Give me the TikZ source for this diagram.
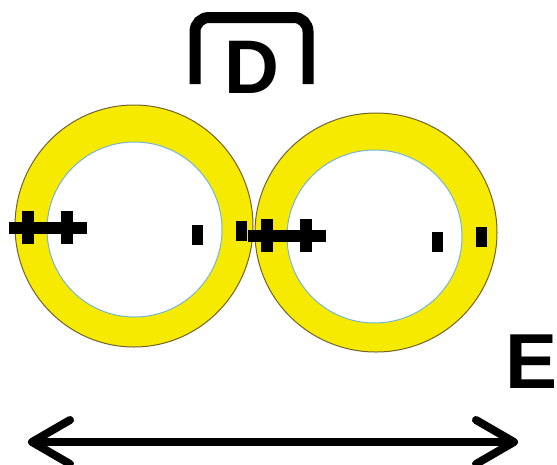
\documentclass[tikz,border=0pt]{standalone}
\usepackage{fontspec}
\setmainfont{Liberation Sans}
\usetikzlibrary{arrows.meta}
\definecolor{ringyellow}{RGB}{245,234,0}
\definecolor{ringedge}{RGB}{115,98,45}
\definecolor{holeedge}{RGB}{120,182,212}
\tikzset{
  ring/.style={fill=ringyellow, draw=ringedge, line width=1pt},
  hole/.style={fill=white, draw=holeedge, line width=1pt},
  signbar/.style={fill=black},
  bigletter/.style={inner sep=0pt, anchor=base west, font=\bfseries},
  span/.style={line width=8pt, line cap=round,
    {Straight Barb[length=38pt, width=44pt, line cap=round, line join=round]}-{Straight Barb[length=38pt, width=44pt, line cap=round, line join=round]}},
  bracket/.style={line width=11pt, rounded corners=14pt}
}
% two plus signs on one shared bar: first x, second x, y
\newcommand{\PlusPair}[3]{%
  \fill[signbar] (#1-19,#3-6) rectangle (#2+20,#3+6);
  \foreach \px in {#1,#2} {
    \fill[signbar] (\px-6,#3-17) rectangle (\px+6,#3+16);
  }
}
% small upright minus bar: x, y
\newcommand{\MinusBar}[2]{%
  \fill[signbar] (#1-5.5,#2-10) rectangle (#1+5.5,#2+10);
}

\begin{document}
\begin{tikzpicture}[x=1pt, y=-1pt]
  \useasboundingbox (0,0) rectangle (557,464);

  % rings
  \draw[ring] (134,226) ellipse [x radius=119pt, y radius=121pt];
  \draw[ring] (376,232.5) ellipse [x radius=121pt, y radius=119.5pt];
  \draw[hole] (134.5,229.5) ellipse [x radius=87.5pt, y radius=87.5pt];
  \draw[hole] (374.5,236.5) ellipse [x radius=87.5pt, y radius=86.5pt];

  % charges
  \PlusPair{28}{67}{228}
  \PlusPair{267}{306}{236}
  \MinusBar{197}{235}
  \MinusBar{241}{231}
  \MinusBar{437}{242}
  \MinusBar{481.5}{237}

  % D with bracket
  \coordinate (brL) at (195,84);
  \coordinate (brR) at (308,84);
  \draw[bracket] (brL) |- (251.5,17.5) -| (brR);
  \node[bigletter, font=\fontsize{76}{76}\selectfont\bfseries] (lblD) at (224,93) {D};

  % E and the span arrow
  \node[bigletter, font=\fontsize{78}{78}\selectfont\bfseries] (lblE) at (505,388) {E};
  \coordinate (arrL) at (28,442);
  \coordinate (arrR) at (518,442);
  \draw[span] (arrL) -- (arrR);
\end{tikzpicture}
\end{document}
